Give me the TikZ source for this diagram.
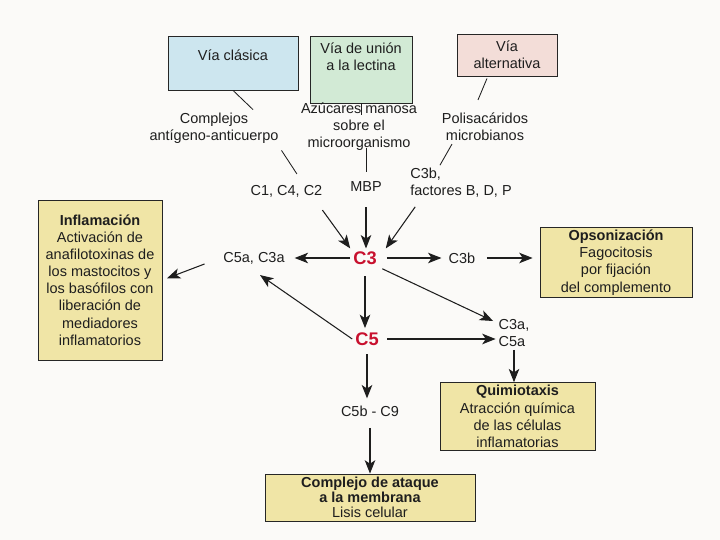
\documentclass[tikz,border=0pt]{standalone}
\usepackage{fontspec}
\setmainfont{Liberation Sans}
\usepackage{xcolor}
\usetikzlibrary{arrows.meta, positioning, calc}

\definecolor{fondo}{HTML}{FBFAF8}
\definecolor{azulvia}{HTML}{CDE6EF}
\definecolor{verdevia}{HTML}{D2EAD5}
\definecolor{rosavia}{HTML}{F3DDD8}
\definecolor{amarillo}{HTML}{F0E5A6}
\definecolor{rojoc}{HTML}{C8102E}
\definecolor{tinta}{HTML}{1E1E1E}

\begin{document}
\begin{tikzpicture}[
  font=\fontsize{10.3}{12.2}\selectfont,
  text=tinta,
  via/.style={rectangle, draw=black!85, line width=0.6pt, align=center, inner sep=2pt},
  efecto/.style={rectangle, draw=black!85, line width=0.6pt, fill=amarillo, align=center, inner sep=2pt},
  txt/.style={align=center, inner sep=2pt},
  comp/.style={font=\fontsize{13}{13}\selectfont\bfseries, text=rojoc, inner sep=2pt},
  lin/.style={line width=0.6pt, draw=tinta},
  arr/.style={-{Stealth[length=9.5pt,width=7.5pt,inset=2.5pt]}, line width=0.75pt, draw=tinta}
]
  \useasboundingbox[fill=fondo] (0,0) rectangle (18,13.5);

  % vias de activacion
  \node[via, fill=azulvia, minimum width=3.25cm, minimum height=1.35cm, text depth=0.41cm] (clasica) at (5.825,11.925) {Vía clásica};
  \node[via, fill=verdevia, minimum width=2.55cm, minimum height=1.675cm, text depth=0.64cm] (lectina) at (9.025,11.7625) {Vía de unión\\a la lectina};
  \node[via, fill=rosavia, minimum width=2.5cm, minimum height=1.05cm] (alterna) at (12.675,12.125) {Vía\\alternativa};

  \node[txt] (complejos) at (5.35,10.3) {Complejos\\antígeno-anticuerpo};
  \node[txt] (azucares) at (8.975,10.325) {Azúcares manosa\\sobre el\\microorganismo};
  \node[txt] (polisac) at (12.125,10.325) {Polisacáridos\\microbianos};

  \node[txt] (c142) at (7.1625,8.725) {C1, C4, C2};
  \node[txt] (mbp) at (9.15,8.825) {MBP};
  \node[txt, align=left] (c3bf) at (11.525,8.925) {C3b,\\factores B, D, P};

  % componentes centrales
  \node[comp] (c3) at (9.125,7.05) {C3};
  \node[comp] (c5) at (9.175,5.025) {C5};
  \node[txt] (c5ac3a) at (6.35,7.05) {C5a, C3a};
  \node[txt] (c3b) at (11.55,7.05) {C3b};
  \node[txt, align=left] (c3ac5a) at (12.85,5.175) {C3a,\\C5a};
  \node[txt] (c5bc9) at (9.25,3.225) {C5b - C9};

  % efectos
  \node[efecto, minimum width=3.1cm, minimum height=4cm] (inflam) at (2.5,6.5) {\textbf{Inflamación}\\Activación de\\anafilotoxinas de\\los mastocitos y\\los basófilos con\\liberación de\\mediadores\\inflamatorios};
  \node[efecto, minimum width=3.8cm, minimum height=1.725cm] (opson) at (15.4,6.9375) {\textbf{Opsonización}\\Fagocitosis\\por fijación\\del complemento};
  \node[efecto, minimum width=3.875cm, minimum height=1.675cm] (quimio) at (12.9375,3.0875) {\textbf{Quimiotaxis}\\Atracción química\\de las células\\inflamatorias};
  \node[efecto, minimum width=5.25cm, minimum height=1.175cm, font=\fontsize{10.3}{10.6}\selectfont] (complejo) at (9.25,1.0625) {\textbf{Complejo de ataque}\\\textbf{a la membrana}\\Lisis celular};

  % lineas de las vias
  \draw[lin] (clasica.south) -- ([xshift=0.975cm]complejos.north);
  \draw[lin] (lectina.south) -- ($(lectina.south |- azucares.north)+(0,-0.375)$);
  \draw[lin] ([xshift=-0.5cm,yshift=-0.05cm]alterna.south) -- ([xshift=-0.175cm,yshift=0.25cm]polisac.north);
  \draw[lin] ([yshift=-0.1cm]complejos.south east) -- ([xshift=0.26cm,yshift=0.2cm]c142.north);
  \draw[lin] ($(azucares.south -| mbp.north)+(0,0.15)$) -- ($(mbp.north)+(0,0.175)$);
  \draw[lin] ([xshift=-0.825cm]polisac.south) -- ([xshift=-0.525cm]c3bf.north);

  % flechas
  \draw[arr] ([xshift=-0.075cm,yshift=-0.25cm]c142.south east) -- (c3.north west);
  \draw[arr] ($(mbp.south)+(0,-0.3)$) -- (mbp.south |- c3.north);
  \draw[arr] ([xshift=0.2cm,yshift=-0.15cm]c3bf.south west) -- ([xshift=0.15cm]c3.north east);
  \draw[arr, shorten >=5pt] (c3.west) -- (c5ac3a.east);
  \draw[arr, shorten <=12pt, shorten >=3.5pt] (c5ac3a.west) -- (inflam.east);
  \draw[arr] (c5.west) -- ([xshift=0.15cm,yshift=-0.2cm]c5ac3a.south);
  \draw[arr, shorten <=6pt, shorten >=1pt] (c3.south) -- (c3.south |- c5.north);
  \draw[arr, shorten <=5pt, shorten >=3pt] (c3.east) -- (c3b.west);
  \draw[arr, shorten <=6pt, shorten >=5pt] (c3b.east) -- (c3b.east -| opson.west);
  \draw[arr, shorten <=2pt, shorten >=2pt] (c3.south east) -- ([yshift=-0.15cm]c3ac5a.north west);
  \draw[arr, shorten <=4pt] (c5.east) -- (c5.east -| c3ac5a.west);
  \draw[arr] (c3ac5a.south) -- (c3ac5a.south |- quimio.north);
  \draw[arr, shorten <=4pt, shorten >=3pt] (c5.south) -- (c5.south |- c5bc9.north);
  \draw[arr, shorten <=6pt] (c5bc9.south) -- (c5bc9.south |- complejo.north);
\end{tikzpicture}
\end{document}
